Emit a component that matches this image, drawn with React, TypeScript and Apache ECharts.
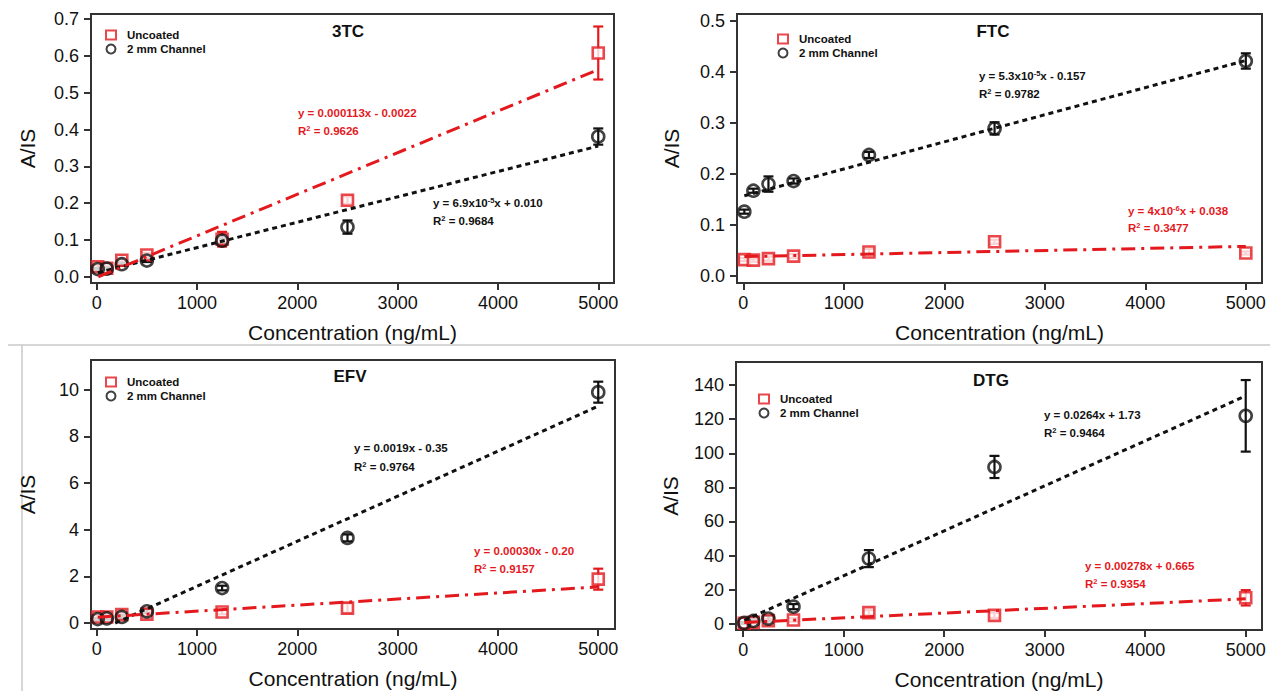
import React, { useEffect, useRef } from "react";
import * as echarts from "echarts";

// ---------- data ----------
const concentrations = [10, 100, 250, 500, 1250, 2500, 5000];
const xTickValues = [0, 1000, 2000, 3000, 4000, 5000];

// 3TC
const tc3Uncoated = [0.027, 0.023, 0.045, 0.059, 0.102, 0.208, 0.608];
const tc3UncoatedErr = [0.005, 0.005, 0.006, 0.006, 0.02, 0.01, 0.072];
const tc3Channel = [0.021, 0.022, 0.034, 0.044, 0.098, 0.135, 0.381];
const tc3ChannelErr = [0.003, 0.003, 0.004, 0.004, 0.006, 0.018, 0.022];
const tc3UncoatedFit = [[16, 0.0], [5000, 0.563]];
const tc3ChannelFit = [[10, 0.011], [5000, 0.355]];
const tc3YTicks = [0, 0.1, 0.2, 0.3, 0.4, 0.5, 0.6, 0.7];

// FTC
const ftcUncoated = [0.032, 0.031, 0.034, 0.039, 0.047, 0.067, 0.045];
const ftcUncoatedErr = [0.003, 0.003, 0.004, 0.004, 0.006, 0.004, 0.003];
const ftcChannel = [0.126, 0.167, 0.18, 0.186, 0.237, 0.289, 0.421];
const ftcChannelErr = [0.004, 0.004, 0.015, 0.005, 0.006, 0.012, 0.015];
const ftcUncoatedFit = [[10, 0.038], [5000, 0.058]];
const ftcChannelFit = [[10, 0.157], [5000, 0.422]];
const ftcYTicks = [0, 0.1, 0.2, 0.3, 0.4, 0.5];

// EFV
const efvUncoated = [0.26, 0.26, 0.36, 0.38, 0.47, 0.64, 1.88];
const efvUncoatedErr = [0.08, 0.08, 0.1, 0.08, 0.1, 0.2, 0.45];
const efvChannel = [0.17, 0.2, 0.26, 0.5, 1.5, 3.65, 9.9];
const efvChannelErr = [0.05, 0.05, 0.08, 0.08, 0.1, 0.15, 0.45];
const efvUncoatedFit = [[10, 0.25], [5000, 1.55]];
const efvChannelFit = [[184, 0.0], [5000, 9.3]];
const efvYTicks = [0, 2, 4, 6, 8, 10];

// DTG
const dtgUncoated = [0.3, 0.8, 1.8, 2.2, 6.5, 4.9, 15.2];
const dtgUncoatedErr = [0.4, 0.6, 1.0, 1.0, 1.5, 1.5, 4.5];
const dtgChannel = [0.5, 1.6, 3.0, 10.0, 38.2, 92.0, 122.0];
const dtgChannelErr = [0.5, 0.8, 1.5, 1.5, 5.0, 6.5, 21.0];
const dtgUncoatedFit = [[10, 0.69], [5000, 14.6]];
const dtgChannelFit = [[10, 1.99], [5000, 133.7]];
const dtgYTicks = [0, 20, 40, 60, 80, 100, 120, 140];

const panelNames = ["3TC", "FTC", "EFV", "DTG"];
const seriesNames = ["Uncoated", "2 mm Channel"];

// ---------- style ----------
const FONT = "Liberation Sans, Arial, Helvetica, sans-serif";
const RED = "#e4191e";
const BLACK = "#111111";
const AXIS = "#333333";

const pairs = (xs: number[], ys: number[]) => xs.map((x, i) => [x, ys[i]]);
const triples = (xs: number[], ys: number[], es: number[]) => xs.map((x, i) => [x, ys[i], es[i]]);

function errRender(color: string) {
  return (params: any, api: any) => {
    const x = api.value(0);
    const y = api.value(1);
    const e = api.value(2);
    const p1 = api.coord([x, y + e]);
    const p2 = api.coord([x, y - e]);
    const hw = 5;
    const style = { stroke: color, lineWidth: 2.2 };
    return {
      type: "group",
      children: [
        { type: "line", shape: { x1: p1[0], y1: p1[1], x2: p2[0], y2: p2[1] }, style },
        { type: "line", shape: { x1: p1[0] - hw, y1: p1[1], x2: p1[0] + hw, y2: p1[1] }, style },
        { type: "line", shape: { x1: p2[0] - hw, y1: p2[1], x2: p2[0] + hw, y2: p2[1] }, style },
      ],
    };
  };
}

function xAxis(gridIndex: number, min: number, max: number) {
  return {
    type: "value",
    gridIndex,
    min,
    max,
    name: "Concentration (ng/mL)",
    nameLocation: "middle",
    nameGap: 39,
    nameTextStyle: { fontSize: 21, color: BLACK, fontFamily: FONT },
    axisLine: { show: true, onZero: false, lineStyle: { color: AXIS, width: 2 } },
    axisTick: { show: true, length: 7, lineStyle: { color: AXIS, width: 2 }, customValues: xTickValues },
    axisLabel: {
      fontSize: 18,
      color: BLACK,
      fontFamily: FONT,
      margin: 11,
      customValues: xTickValues,
      formatter: (v: number) => String(Math.round(v)),
    },
    splitLine: { show: false },
  };
}

function yAxis(gridIndex: number, min: number, max: number, ticks: number[], decimals: number, gap: number) {
  return {
    type: "value",
    gridIndex,
    min,
    max,
    name: "A/IS",
    nameLocation: "middle",
    nameGap: gap,
    nameTextStyle: { fontSize: 21, color: BLACK, fontFamily: FONT },
    axisLine: { show: true, onZero: false, lineStyle: { color: AXIS, width: 2 } },
    axisTick: { show: true, length: 7, lineStyle: { color: AXIS, width: 2 }, customValues: ticks },
    axisLabel: {
      fontSize: 18,
      color: BLACK,
      fontFamily: FONT,
      margin: 12,
      customValues: ticks,
      formatter: (v: number) => v.toFixed(decimals),
    },
    splitLine: { show: false },
  };
}

function panelSeries(
  idx: number,
  unc: number[],
  uncErr: number[],
  ch: number[],
  chErr: number[],
  uncFit: number[][],
  chFit: number[][]
) {
  const ax = { xAxisIndex: idx, yAxisIndex: idx };
  return [
    {
      type: "line",
      ...ax,
      data: chFit,
      symbol: "none",
      silent: true,
      lineStyle: { color: BLACK, width: 3, type: [5, 4] },
    },
    {
      type: "line",
      ...ax,
      data: uncFit,
      symbol: "none",
      silent: true,
      lineStyle: { color: RED, width: 3, type: [14, 6, 3, 6] },
    },
    {
      type: "scatter",
      name: seriesNames[0],
      ...ax,
      data: pairs(concentrations, unc),
      symbol: "rect",
      symbolSize: 11,
      itemStyle: { color: "#ffffff", borderColor: RED, borderWidth: 2.6 },
    },
    {
      type: "scatter",
      name: seriesNames[1],
      ...ax,
      data: pairs(concentrations, ch),
      symbol: "circle",
      symbolSize: 12,
      itemStyle: { color: "rgba(255,255,255,0)", borderColor: BLACK, borderWidth: 2.6 },
    },
    {
      type: "custom",
      ...ax,
      data: triples(concentrations, unc, uncErr),
      encode: { x: 0, y: 1 },
      renderItem: errRender(RED),
      silent: true,
    },
    {
      type: "custom",
      ...ax,
      data: triples(concentrations, ch, chErr),
      encode: { x: 0, y: 1 },
      renderItem: errRender(BLACK),
      silent: true,
    },
  ];
}

function legend(left: number, top: number) {
  return {
    left,
    top,
    padding: 0,
    orient: "vertical",
    itemWidth: 10,
    itemHeight: 9,
    itemGap: 2,
    selectedMode: false,
    data: seriesNames,
    textStyle: { fontSize: 11.5, fontWeight: "bold", color: BLACK, fontFamily: FONT, padding: [0, 0, 0, 6] },
  };
}

const rich = (color: string) => ({
  a: { fontSize: 11.5, fontWeight: "bold", fill: color, fontFamily: FONT, lineHeight: 14 },
  s: { fontSize: 7.5, fontWeight: "bold", fill: color, fontFamily: FONT, verticalAlign: "top", lineHeight: 9 },
});

function annot(x: number, y: number, text: string, color: string) {
  return {
    type: "text",
    x,
    y,
    silent: true,
    style: { text, rich: rich(color), fill: color, align: "left", verticalAlign: "middle" },
  };
}

function title(x: number, y: number, text: string) {
  return {
    type: "text",
    x,
    y,
    silent: true,
    style: {
      text,
      fill: BLACK,
      font: `bold 17px ${FONT}`,
      align: "center",
      verticalAlign: "middle",
    },
  };
}

export default function App() {
  const ref = useRef<HTMLDivElement>(null);

  useEffect(() => {
    if (!ref.current) return;
    const chart = echarts.init(ref.current, undefined, { renderer: "svg" });
    const grid = (left: number, top: number, width: number, height: number) => ({
      left,
      top,
      width,
      height,
      show: true,
      borderColor: AXIS,
      borderWidth: 2,
      containLabel: false,
    });
    const option: any = {
      animation: false,
      backgroundColor: "#ffffff",
      textStyle: { fontFamily: FONT },
      grid: [
        grid(91, 14, 523, 269),
        grid(737, 14, 525, 269),
        grid(91, 360, 524, 269),
        grid(736, 362, 526, 269),
      ],
      xAxis: [
        xAxis(0, -57, 5157),
        xAxis(1, -63, 5161),
        xAxis(2, -57, 5167),
        xAxis(3, -72, 5162),
      ],
      yAxis: [
        yAxis(0, -0.017, 0.714, tc3YTicks, 1, 53),
        yAxis(1, -0.0137, 0.513, ftcYTicks, 1, 55),
        yAxis(2, -0.257, 11.28, efvYTicks, 0, 53),
        yAxis(3, -3.7, 153.6, dtgYTicks, 0, 55),
      ],
      legend: [legend(105, 29), legend(777, 33), legend(105, 376), legend(758, 393)],
      series: [
        ...panelSeries(0, tc3Uncoated, tc3UncoatedErr, tc3Channel, tc3ChannelErr, tc3UncoatedFit, tc3ChannelFit),
        ...panelSeries(1, ftcUncoated, ftcUncoatedErr, ftcChannel, ftcChannelErr, ftcUncoatedFit, ftcChannelFit),
        ...panelSeries(2, efvUncoated, efvUncoatedErr, efvChannel, efvChannelErr, efvUncoatedFit, efvChannelFit),
        ...panelSeries(3, dtgUncoated, dtgUncoatedErr, dtgChannel, dtgChannelErr, dtgUncoatedFit, dtgChannelFit),
      ],
      graphic: [
        { type: "line", silent: true, shape: { x1: 8, y1: 345, x2: 1270, y2: 345 }, style: { stroke: "#c8c8c8", lineWidth: 1.5 } },
        { type: "line", silent: true, shape: { x1: 22, y1: 345, x2: 22, y2: 691 }, style: { stroke: "#c8c8c8", lineWidth: 1.5 } },
        title(348, 31, panelNames[0]),
        title(993, 31, panelNames[1]),
        title(350, 376, panelNames[2]),
        title(991, 380, panelNames[3]),
        annot(298, 113, "{a|y = 0.000113x - 0.0022}", RED),
        annot(298, 131, "{a|R}{s|2}{a| = 0.9626}", RED),
        annot(433, 203, "{a|y = 6.9x10}{s|-5}{a|x + 0.010}", BLACK),
        annot(433, 221, "{a|R}{s|2}{a| = 0.9684}", BLACK),
        annot(979, 76, "{a|y = 5.3x10}{s|-5}{a|x - 0.157}", BLACK),
        annot(979, 94, "{a|R}{s|2}{a| = 0.9782}", BLACK),
        annot(1128, 211, "{a|y = 4x10}{s|-6}{a|x + 0.038}", RED),
        annot(1128, 228, "{a|R}{s|2}{a| = 0.3477}", RED),
        annot(354, 448, "{a|y = 0.0019x - 0.35}", BLACK),
        annot(354, 467, "{a|R}{s|2}{a| = 0.9764}", BLACK),
        annot(474, 551, "{a|y = 0.00030x - 0.20}", RED),
        annot(474, 569, "{a|R}{s|2}{a| = 0.9157}", RED),
        annot(1044, 415, "{a|y = 0.0264x + 1.73}", BLACK),
        annot(1044, 433, "{a|R}{s|2}{a| = 0.9464}", BLACK),
        annot(1085, 566, "{a|y = 0.00278x + 0.665}", RED),
        annot(1085, 584, "{a|R}{s|2}{a| = 0.9354}", RED),
      ],
    };
    chart.setOption(option);
    return () => chart.dispose();
  }, []);

  return (
    <div
      ref={ref}
      style={{ position: "absolute", left: 0, top: 0, width: 1270, height: 691, background: "#fff" }}
    />
  );
}
